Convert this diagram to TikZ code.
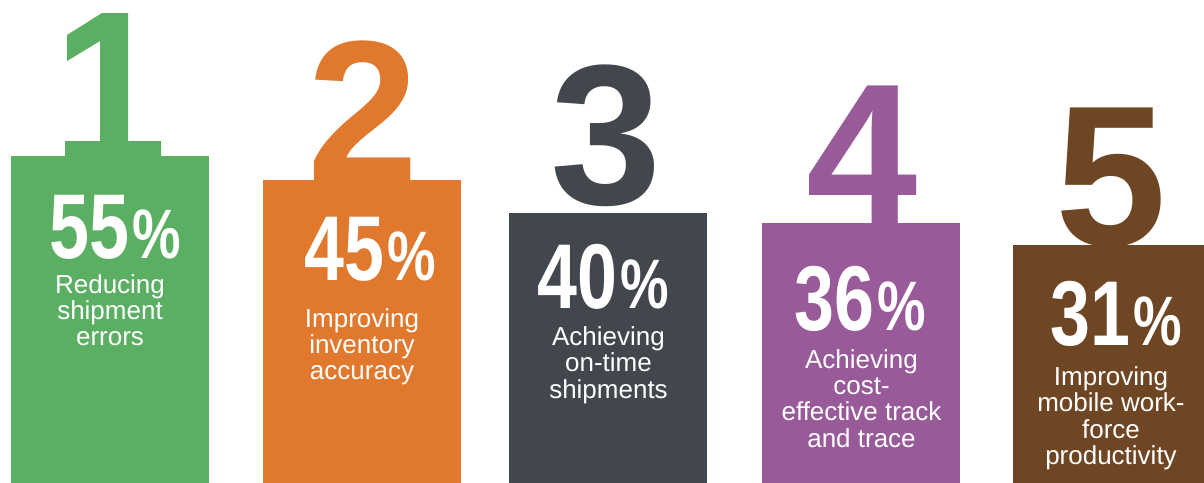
\documentclass[tikz,border=0pt]{standalone}
\usepackage{fontspec}
\setmainfont{Liberation Sans}
\usepackage{graphicx}
\definecolor{cgreen}{HTML}{5BAF62}
\definecolor{corange}{HTML}{E0782D}
\definecolor{cslate}{HTML}{42464D}
\definecolor{cpurple}{HTML}{985A98}
\definecolor{cbrown}{HTML}{6E4623}
\newcommand{\pct}[1]{\scalebox{0.78}[1]{\fontsize{92}{92}\selectfont\bfseries #1}\hspace{3pt}\scalebox{0.78}[1]{\fontsize{70}{70}\selectfont\bfseries\%}}
\newcommand{\lbl}[1]{\begin{tabular}[t]{@{}c@{}}#1\end{tabular}}
\begin{document}
\begin{tikzpicture}[x=1pt,y=-1pt,
  box/.style={draw=none,inner sep=0pt,outer sep=0pt,anchor=north west,minimum width=198pt,minimum height=340pt},
  bigdigit/.style={inner sep=0pt,anchor=base,text height=143pt,text depth=0pt,font=\fontsize{200}{200}\selectfont\bfseries},
  pctnode/.style={inner sep=0pt,anchor=base,text=white,text height=66pt,text depth=0pt},
  label/.style={inner sep=0pt,anchor=base,text=white,font=\fontsize{26}{26}\selectfont}]
\useasboundingbox (0,0) rectangle (1204,482);
\clip (0,0) rectangle (1204,482);
\fill[white] (0,0) rectangle (1204,482);

% big digits
\fill[cgreen] (128,13) -- (102,13) -- (67,35) -- (67,61) -- (100,41) -- (100,141) -- (65,141)
  -- (65,157) -- (161,157) -- (161,141) -- (128,141) -- cycle;
\node[bigdigit,text=corange] (d2) at (363.5,180) {2};
\node[bigdigit,text=cslate]  (d3) at (606.5,204) {3};
\node[bigdigit,text=cpurple] (d4) at (862,223) {4};
\node[bigdigit,text=cbrown]  (d5) at (1111,245) {5};

% boxes
\node[box,fill=cgreen]  (b1) at (11,156) {};
\node[box,fill=corange] (b2) at (263,180) {};
\node[box,fill=cslate]  (b3) at (509,213) {};
\node[box,fill=cpurple] (b4) at (762,223) {};
\node[box,fill=cbrown]  (b5) at (1013,245) {};

% percentages
\node[pctnode] (p1) at (115,258) {\pct{55}};
\node[pctnode] (p2) at (370,280) {\pct{45}};
\node[pctnode] (p3) at (603,308) {\pct{40}};
\node[pctnode] (p4) at (860,330) {\pct{36}};
\node[pctnode] (p5) at (1116,345) {\pct{31}};

% labels
\node[label] (l1) at (110,293) {\lbl{Reducing\\shipment\\errors}};
\node[label] (l2) at (362,327) {\lbl{Improving\\inventory\\accuracy}};
\node[label] (l3) at (608.5,345) {\lbl{Achieving\\on-time\\shipments}};
\node[label] (l4) at (861.5,368) {\lbl{Achieving\\cost-\\effective track\\and trace}};
\node[label] (l5) at (1111,385) {\lbl{Improving\\mobile work-\\force\\productivity}};
\end{tikzpicture}
\end{document}
